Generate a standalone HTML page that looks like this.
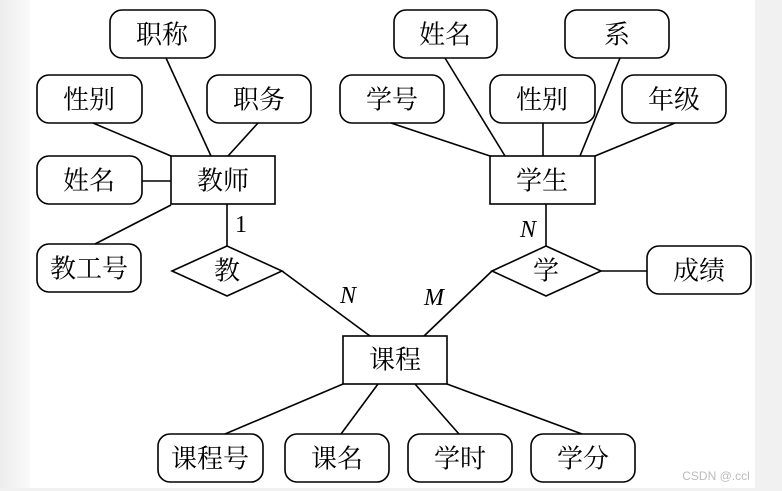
<!DOCTYPE html>
<html><head><meta charset="utf-8"><style>
html,body{margin:0;padding:0;background:#f1f1f1;}
svg{display:block}
text{font-family:"Liberation Serif","Noto Serif CJK SC","Noto Sans CJK SC",serif;font-size:26px;fill:#000;text-anchor:middle;dominant-baseline:central}
.it{font-style:italic;font-size:24px}
</style></head><body>
<svg width="782" height="491" viewBox="0 0 782 491" xmlns="http://www.w3.org/2000/svg">
<defs><linearGradient id="g" x1="0" x2="1" y1="0" y2="0"><stop offset="0" stop-color="#ececec"/><stop offset="1" stop-color="#ffffff"/></linearGradient></defs>
<rect x="0" y="0" width="782" height="491" fill="#f1f1f1"/>
<rect x="0" y="0" width="40" height="488" fill="url(#g)"/>
<rect x="30" y="0" width="725" height="488" fill="#fff"/>
<g stroke="#000" stroke-width="1.6" fill="none">
<line x1="93" y1="123" x2="171" y2="156"/>
<line x1="166" y1="58" x2="211" y2="156"/>
<line x1="258" y1="123" x2="228" y2="156"/>
<line x1="142" y1="181" x2="171" y2="181"/>
<line x1="95" y1="244" x2="171" y2="205"/>
<line x1="227" y1="204" x2="227" y2="246"/>
<line x1="282" y1="271" x2="370" y2="336"/>
<line x1="391" y1="123" x2="490" y2="156"/>
<line x1="445" y1="58" x2="505" y2="156"/>
<line x1="543" y1="123" x2="543" y2="156"/>
<line x1="620" y1="58" x2="580" y2="156"/>
<line x1="675" y1="123" x2="595" y2="156"/>
<line x1="546" y1="204" x2="546" y2="246"/>
<line x1="601" y1="271" x2="647" y2="271"/>
<line x1="492" y1="271" x2="424" y2="336"/>
<line x1="343" y1="384" x2="225" y2="434"/>
<line x1="378" y1="384" x2="341" y2="434"/>
<line x1="415" y1="384" x2="459" y2="434"/>
<line x1="447" y1="384" x2="582" y2="434"/>
<rect x="110" y="10" width="105" height="48" rx="12"/>
<rect x="37" y="75" width="105" height="48" rx="12"/>
<rect x="207" y="75" width="104" height="48" rx="12"/>
<rect x="37" y="156" width="105" height="48" rx="12"/>
<rect x="37" y="244" width="104" height="48" rx="12"/>
<rect x="171" y="156" width="104" height="48"/>
<polygon points="172,271 227,246 282,271 227,296"/>
<rect x="340" y="75" width="104" height="48" rx="12"/>
<rect x="394" y="10" width="103" height="48" rx="12"/>
<rect x="565" y="10" width="104" height="48" rx="12"/>
<rect x="490" y="75" width="105" height="48" rx="12"/>
<rect x="622" y="75" width="104" height="48" rx="12"/>
<rect x="490" y="156" width="105" height="48"/>
<polygon points="492,271 546,246 601,271 546,296"/>
<rect x="647" y="246" width="104" height="48" rx="12"/>
<rect x="343" y="336" width="104" height="48"/>
<rect x="158" y="434" width="105" height="48" rx="12"/>
<rect x="285" y="434" width="104" height="48" rx="12"/>
<rect x="408" y="434" width="104" height="48" rx="12"/>
<rect x="531" y="434" width="104" height="48" rx="12"/>
</g>
<text x="162" y="35">职称</text>
<text x="89" y="100">性别</text>
<text x="259" y="100">职务</text>
<text x="89" y="181">姓名</text>
<text x="89" y="269">教工号</text>
<text x="223" y="181">教师</text>
<text x="227" y="271">教</text>
<text x="241" y="225" style="font-size:24px">1</text>
<text x="392" y="100">学号</text>
<text x="445" y="35">姓名</text>
<text x="617" y="35">系</text>
<text x="542" y="100">性别</text>
<text x="674" y="100">年级</text>
<text x="542" y="181">学生</text>
<text class="it" x="528" y="230">N</text>
<text x="546" y="271">学</text>
<text x="699" y="271">成绩</text>
<text class="it" x="348" y="296">N</text>
<text class="it" x="434" y="298">M</text>
<text x="395" y="360">课程</text>
<text x="210" y="459">课程号</text>
<text x="337" y="459">课名</text>
<text x="460" y="459">学时</text>
<text x="583" y="459">学分</text>
<text x="716" y="476" style="font-family:'Liberation Sans',sans-serif;font-size:12px;fill:#bbb">CSDN @.ccl</text>
</svg>
</body></html>
